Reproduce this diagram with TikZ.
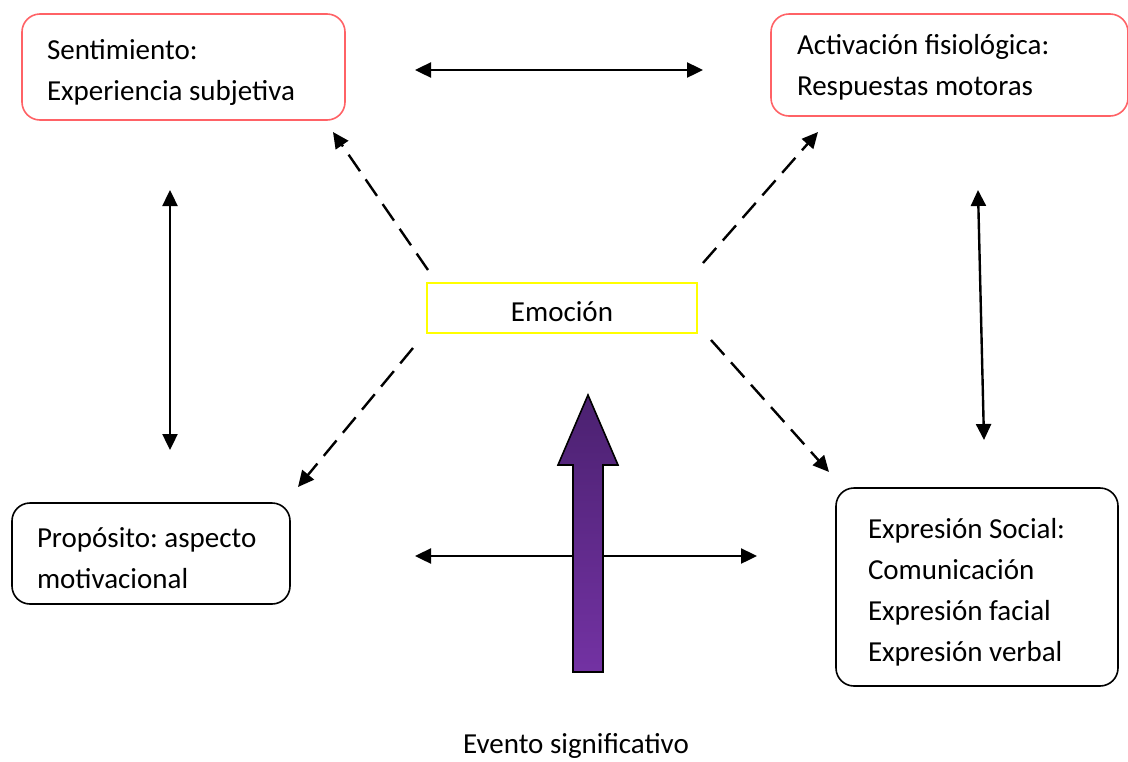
\documentclass[tikz,border=0pt]{standalone}
\usepackage{fontspec}
\setmainfont{Carlito}
\usepackage{tikz}
\usetikzlibrary{arrows.meta}

\definecolor{rojo}{HTML}{FF6266}
\definecolor{amarillo}{HTML}{FFFF00}
\definecolor{moradoalto}{HTML}{4B2170}
\definecolor{moradobajo}{HTML}{7332A3}

\begin{document}
\frenchspacing
\begin{tikzpicture}[x=1pt,y=-1pt,
  caja/.style={draw,rounded corners=18pt,line width=1.6pt,align=flush left,inner xsep=25pt,inner ysep=0pt,font=\fontsize{29}{41}\selectfont,execute at begin node={\rule{0pt}{#1}}},
  caja/.default=30pt,
  flecha/.style={line width=2.4pt,{Triangle[length=16pt,width=15pt]}-{Triangle[length=16pt,width=15pt]}},
  guion/.style={line width=2.4pt,dash pattern=on 20pt off 10pt,-{Triangle[length=16pt,width=15pt]}}]
\useasboundingbox (0,0) rectangle (1128,761);
% cajas
\node[caja,draw=rojo,text width=273pt,minimum height=106pt] (sentimiento) at (183.5,67) {Sentimiento:\\Experiencia subjetiva};
\node[caja=25pt,draw=rojo,text width=305pt,inner xsep=26pt,minimum height=102pt] (activacion) at (949.5,65) {Activación fisiológica:\\Respuestas motoras};
\node[draw=amarillo,line width=1.6pt,minimum width=270pt,minimum height=50pt,inner sep=0pt,text height=26pt,text depth=0pt,font=\fontsize{29}{41}\selectfont] (emocion) at (562,308) {Emoción};
\node[caja,text width=228pt,minimum height=101pt] (proposito) at (151,553.5) {Propósito: aspecto\\motivacional};
\node[caja,text width=218pt,inner xsep=32pt,minimum height=198pt] (expresion) at (977,587) {Expresión Social:\\Comunicación\\Expresión facial\\Expresión verbal};
\node[font=\fontsize{29}{41}\selectfont] (evento) at (576,746) {Evento significativo};
% extremos de las flechas
\coordinate (a1) at (415,70);   \coordinate (a2) at (703,70);
\coordinate (b1) at (170,190);  \coordinate (b2) at (170,450);
\coordinate (c1) at (978,190);  \coordinate (c2) at (984,440);
\coordinate (d1) at (415,556);  \coordinate (d2) at (757,556);
\coordinate (e1) at (428,270);  \coordinate (e2) at (333,132);
\coordinate (f1) at (703,263);  \coordinate (f2) at (818,132);
\coordinate (g1) at (413,348);  \coordinate (g2) at (298,487);
\coordinate (h1) at (711,340);  \coordinate (h2) at (829,472);
\draw[flecha] (a1) -- (a2);
\draw[flecha] (b1) -- (b2);
\draw[flecha] (c1) -- (c2);
\draw[flecha] (d1) -- (d2);
\draw[guion] (e1) -- (e2);
\draw[guion] (f1) -- (f2);
\draw[guion] (g1) -- (g2);
\draw[guion] (h1) -- (h2);
% flecha del evento
\draw[line width=1.6pt,line join=miter,top color=moradoalto,bottom color=moradobajo]
  (573,672) -- (573,465) -- (558,465) -- (588,395) -- (618,465) -- (603,465) -- (603,672) -- cycle;
\end{tikzpicture}
\end{document}
